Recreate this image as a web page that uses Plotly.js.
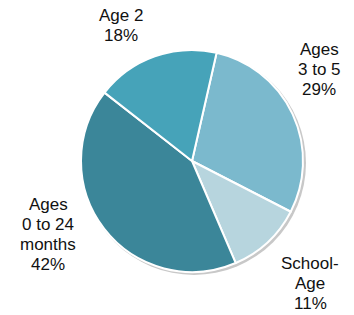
<!DOCTYPE html>
<html>
<head>
<meta charset="utf-8">
<script src="https://cdn.plot.ly/plotly-3.0.1.min.js"></script>
<style>html,body{margin:0;padding:0;background:#fff;}#chart{width:354px;height:315px;}</style>
</head>
<body>
<div id="chart"></div>
<script>
const categories = ["Ages 3 to 5", "School-Age", "Ages 0 to 24 months", "Age 2"];
const labelLines = [["Ages", "3 to 5"], ["School-", "Age"], ["Ages", "0 to 24", "months"], ["Age 2"]];
const values = [29, 11, 42, 18];
const colors = ["#7bb9cd", "#b7d5de", "#3b8699", "#46a3b9"];

// centre x and first-line y of each label block (pixels)
const labelPos = [
  {x: 319, y: 49},
  {x: 310, y: 263},
  {x: 48, y: 204},
  {x: 121, y: 15}
];
const lineGap = 20;

const W = 354, H = 315;
const annotations = [];
categories.forEach((c, i) => {
  const lines = labelLines[i].concat([values[i] + "%"]);
  lines.forEach((t, j) => {
    annotations.push({
      text: t,
      x: labelPos[i].x / W, y: 1 - (labelPos[i].y + j * lineGap) / H,
      xref: "paper", yref: "paper", xanchor: "center", yanchor: "middle",
      showarrow: false, align: "center",
      font: {family: "Liberation Sans, Arial, sans-serif", size: 17, color: "#111"}
    });
  });
});

const cx = 192, cy = 161, r = 111;
const trace = {
  type: "pie",
  labels: categories,
  values: values,
  sort: false,
  direction: "clockwise",
  rotation: 12.8,
  marker: {colors: colors, line: {color: "#ffffff", width: 2}},
  textinfo: "none",
  hoverinfo: "none",
  showlegend: false,
  domain: {x: [(cx - r) / W, (cx + r) / W], y: [(H - cy - r) / H, (H - cy + r) / H]}
};

const layout = {
  width: W, height: H,
  margin: {l: 0, r: 0, t: 0, b: 0},
  paper_bgcolor: "#ffffff",
  showlegend: false,
  annotations: annotations,
  shapes: [{
    type: "circle", xref: "paper", yref: "paper", layer: "below",
    x0: (cx - r + 1) / W, x1: (cx + r + 3) / W,
    y0: (H - cy - r - 3) / H, y1: (H - cy + r - 1) / H,
    fillcolor: "#c8c8c8", line: {width: 0}
  }]
};

Plotly.newPlot("chart", [trace], layout, {displayModeBar: false, staticPlot: true});
</script>
</body>
</html>
